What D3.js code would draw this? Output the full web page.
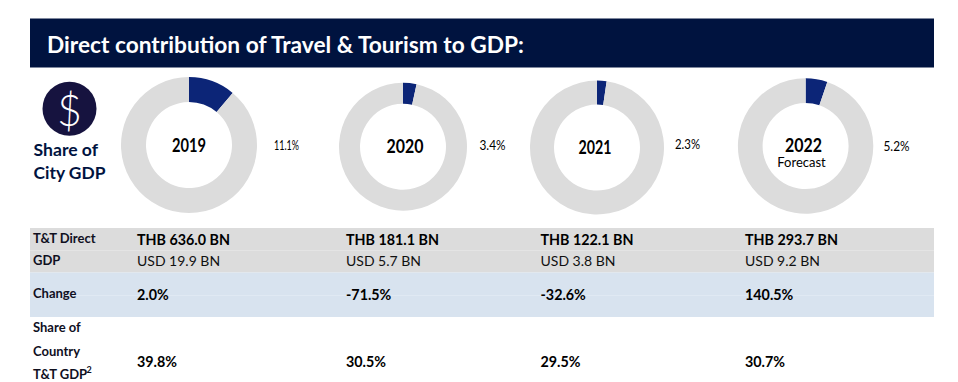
<!DOCTYPE html>
<html><head><meta charset="utf-8">
<script src="https://cdn.jsdelivr.net/npm/d3@7"></script>
<style>html,body{margin:0;padding:0;background:#fff}svg{display:block}text{font-family:Lato,sans-serif}</style>
</head><body><svg id="c" width="958" height="382"></svg>
<script>
const title = "Direct contribution of Travel & Tourism to GDP:";
const years = ["2019","2020","2021","2022"];
const cityShare = [11.1,3.4,2.3,5.2];
const cityShareLabels = ["11.1%","3.4%","2.3%","5.2%"];
const thb = ["THB 636.0 BN","THB 181.1 BN","THB 122.1 BN","THB 293.7 BN"];
const usd = ["USD 19.9 BN","USD 5.7 BN","USD 3.8 BN","USD 9.2 BN"];
const change = ["2.0%","-71.5%","-32.6%","140.5%"];
const countryShare = ["39.8%","30.5%","29.5%","30.7%"];

const layout = [
 {cx:189,cy:145,R:68,lx:274,ly:145,yx:189,yy:145,yw:34,lw:25},
 {cx:403,cy:146.7,R:64,lx:479.5,ly:144.5,yx:405,yy:146,yw:37,lw:26},
 {cx:597,cy:147.5,R:67,lx:675,ly:143.5,yx:595,yy:147,yw:33,lw:25},
 {cx:805.6,cy:146,R:67.7,lx:883.5,ly:145.5,yx:803.5,yy:145,yw:37,lw:26}
];
const colX = [137,346,540.5,745];
const svg = d3.select("#c");
const T=(x,y,s,size,weight,fill,anchor)=>svg.append("text").attr("x",x).attr("y",y).text(s)
  .attr("font-size",size).attr("font-weight",weight).attr("fill",fill||"#000")
  .attr("text-anchor",anchor||"start").attr("dominant-baseline","central");

// header
svg.append("rect").attr("x",30).attr("y",18.5).attr("width",904).attr("height",49).attr("fill","#00133f");
T(47,44.5,title,22.7,700,"#fff");

// icon
svg.append("circle").attr("cx",69.5).attr("cy",108.7).attr("r",27).attr("fill","#16133f");
T(69.5,109.5,"$",43,300,"#fff","middle");
T(33.5,149.5,"Share of",17.6,700,"#00133f");
T(33.5,172.5,"City GDP",17.4,700,"#00133f");

// donuts
const pie=d3.pie().sort(null).value(d=>d);
years.forEach((y,i)=>{
  const L=layout[i];
  const arc=d3.arc().innerRadius(43).outerRadius(L.R);
  const g=svg.append("g").attr("transform",`translate(${L.cx},${L.cy})`);
  g.selectAll("path").data(pie([cityShare[i],100-cityShare[i]])).join("path")
    .attr("d",arc).attr("fill",(d,j)=>j==0?"#0c2577":"#dcdcdc");
  T(L.lx,L.ly,cityShareLabels[i],13,400,"#000").attr("textLength",L.lw).attr("lengthAdjust","spacingAndGlyphs");
  T(L.yx,L.yy,y,18,700,"#000","middle").attr("textLength",L.yw).attr("lengthAdjust","spacingAndGlyphs");
});
T(801.5,161.5,"Forecast",13,400,"#000","middle");

// table
svg.append("rect").attr("x",30).attr("y",228).attr("width",904).attr("height",44.5).attr("fill","#dcdcdc");
svg.append("rect").attr("x",30).attr("y",272.5).attr("width",904).attr("height",44.5).attr("fill","#d8e3ef");
svg.append("rect").attr("x",30).attr("y",250).attr("width",904).attr("height",1).attr("fill","#e4e4e4");
svg.append("rect").attr("x",30).attr("y",295).attr("width",904).attr("height",1).attr("fill","#e0e9f3");

const ink="#10101f";
T(33,238,"T&T Direct",13,700,ink);
T(33,260,"GDP",13,700,ink);
T(33,293,"Change",13,700,ink);
T(33,327,"Share of",13,700,ink);
T(33,350.5,"Country",13,700,ink);
T(33,374,"T&T GDP",13,700,ink);
T(86.5,369,"2",9,700,ink);

colX.forEach((x,i)=>{
  T(x,239,thb[i],14.3,700,"#000");
  T(x,260.5,usd[i],14,400,"#111");
  T(x,294,change[i],14.3,700,"#000");
  T(x,361,countryShare[i],14.3,700,"#000");
});
</script></body></html>
